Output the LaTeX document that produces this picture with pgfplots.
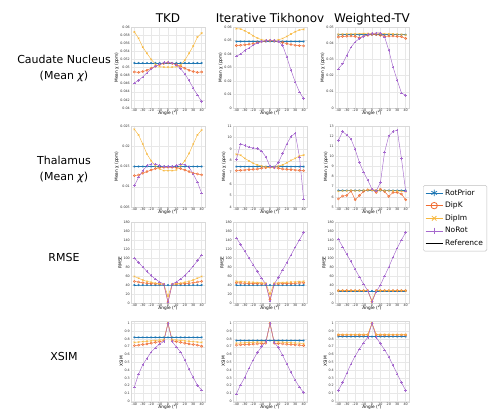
\documentclass[border=0pt]{standalone}
\usepackage{fontspec}
\setmainfont{DejaVu Sans}
\usepackage{pgfplots}
\usepackage{pgfplotstable}
\pgfplotsset{compat=1.18}
\definecolor{cRot}{RGB}{31,119,180}
\definecolor{cDipK}{RGB}{240,108,50}
\definecolor{cDipIm}{RGB}{248,184,62}
\definecolor{cNoRot}{RGB}{165,105,205}

% caudate nucleus, mean chi
\pgfplotstableread{
a rp dk di nr
-40 0.0511 0.0489 0.0588 0.0462
-35 0.0511 0.0488 0.0572 0.0468
-30 0.0511 0.0490 0.0550 0.0477
-25 0.0511 0.0493 0.0535 0.0487
-20 0.0511 0.0498 0.0520 0.0496
-15 0.0511 0.0503 0.0508 0.0503
-10 0.0511 0.0507 0.0502 0.0508
-5 0.0511 0.0510 0.0501 0.0512
0 0.0511 0.0512 0.0501 0.0513
5 0.0511 0.0510 0.0501 0.0511
10 0.0511 0.0507 0.0502 0.0506
15 0.0511 0.0503 0.0506 0.0497
20 0.0511 0.0498 0.0518 0.0484
25 0.0511 0.0493 0.0535 0.0468
30 0.0511 0.0490 0.0553 0.0449
35 0.0511 0.0488 0.0575 0.0432
40 0.0511 0.0489 0.0585 0.0416
}\tAA
\pgfplotstableread{
a rp dk di nr
-40 0.0493 0.0463 0.0588 0.0383
-35 0.0493 0.0465 0.0585 0.0400
-30 0.0493 0.0468 0.0572 0.0425
-25 0.0493 0.0472 0.0555 0.0445
-20 0.0493 0.0477 0.0535 0.0465
-15 0.0493 0.0484 0.0518 0.0482
-10 0.0493 0.0491 0.0506 0.0493
-5 0.0493 0.0496 0.0501 0.0500
0 0.0493 0.0499 0.0500 0.0503
5 0.0493 0.0497 0.0501 0.0500
10 0.0493 0.0492 0.0505 0.0493
15 0.0493 0.0485 0.0515 0.0464
20 0.0493 0.0477 0.0530 0.0378
25 0.0493 0.0470 0.0548 0.0279
30 0.0493 0.0465 0.0565 0.0193
35 0.0493 0.0462 0.0578 0.0119
40 0.0493 0.0460 0.0582 0.0069
}\tAB
\pgfplotstableread{
a rp dk di nr
-40 0.04525 0.04383 0.04542 0.02417
-35 0.04525 0.04417 0.04567 0.02733
-30 0.04525 0.04433 0.04567 0.03250
-25 0.04525 0.04442 0.04575 0.03750
-20 0.04525 0.04417 0.04575 0.04083
-15 0.04525 0.04342 0.04583 0.04283
-10 0.04525 0.04433 0.04592 0.04417
-5 0.04525 0.04483 0.04600 0.04525
0 0.04525 0.04542 0.04608 0.04592
5 0.04525 0.04542 0.04600 0.04633
10 0.04525 0.04483 0.04592 0.04633
15 0.04525 0.04417 0.04583 0.04383
20 0.04525 0.04442 0.04575 0.03558
25 0.04525 0.04442 0.04567 0.02533
30 0.04525 0.04417 0.04558 0.01708
35 0.04525 0.04400 0.04542 0.00925
40 0.04525 0.04292 0.04500 0.00783
}\tAC
% thalamus, mean chi
\pgfplotstableread{
a rp dk di nr
-40 0.0150 0.01276 0.02418 0.01030
-35 0.0150 0.01292 0.02280 0.01234
-30 0.0150 0.01332 0.02052 0.01398
-25 0.0150 0.01374 0.01806 0.01520
-20 0.0150 0.01414 0.01642 0.01562
-15 0.0150 0.01446 0.01520 0.01562
-10 0.0150 0.01472 0.01438 0.01520
-5 0.0150 0.01480 0.01398 0.01496
0 0.0150 0.01480 0.01398 0.01496
5 0.0150 0.01480 0.01398 0.01496
10 0.0150 0.01472 0.01414 0.01520
15 0.0150 0.01446 0.01520 0.01562
20 0.0150 0.01414 0.01642 0.01544
25 0.0150 0.01374 0.01822 0.01480
30 0.0150 0.01332 0.02052 0.01316
35 0.0150 0.01316 0.02280 0.01112
40 0.0150 0.01292 0.02402 0.00842
}\tBA
\pgfplotstableread{
a rp dk di nr
-40 0.00749 0.00714 0.00855 0.00810
-35 0.00749 0.00717 0.00848 0.00946
-30 0.00749 0.00720 0.00820 0.00932
-25 0.00749 0.00723 0.00799 0.00918
-20 0.00749 0.00726 0.00778 0.00911
-15 0.00749 0.00728 0.00764 0.00904
-10 0.00749 0.00735 0.00754 0.00883
-5 0.00749 0.00740 0.00747 0.00834
0 0.00749 0.00743 0.00743 0.00750
5 0.00749 0.00740 0.00747 0.00743
10 0.00749 0.00735 0.00754 0.00785
15 0.00749 0.00728 0.00764 0.00862
20 0.00749 0.00726 0.00782 0.00946
25 0.00749 0.00723 0.00803 0.01009
30 0.00749 0.00720 0.00820 0.01037
35 0.00749 0.00717 0.00841 0.00834
40 0.00749 0.00714 0.00848 0.00470
}\tBB
\pgfplotstableread{
a rp dk di nr
-40 0.00663 0.00580 0.00656 0.01156
-35 0.00663 0.00608 0.00660 0.01244
-30 0.00663 0.00614 0.00660 0.01212
-25 0.00663 0.00657 0.00664 0.01172
-20 0.00663 0.00572 0.00660 0.01068
-15 0.00663 0.00614 0.00662 0.00940
-10 0.00663 0.00654 0.00664 0.00844
-5 0.00663 0.00670 0.00666 0.00764
0 0.00663 0.00670 0.00668 0.00676
5 0.00663 0.00644 0.00666 0.00660
10 0.00663 0.00676 0.00664 0.00740
15 0.00663 0.00652 0.00662 0.01044
20 0.00663 0.00604 0.00660 0.01204
25 0.00663 0.00644 0.00660 0.01244
30 0.00663 0.00644 0.00658 0.01260
35 0.00663 0.00628 0.00656 0.00980
40 0.00663 0.00572 0.00652 0.00660
}\tBC
% RMSE
\pgfplotstableread{
a rp dk di nr
-40 40 48 59 100
-35 40 46.5 55 90
-30 40 45 51 80
-25 40 44 48 70
-20 40 43 46 61
-15 40 42.5 44 53
-10 40 42 43 47
-5 40 41.5 42 42
0 40 2 15 2
5 40 41.5 42 42
10 40 42 43 47
15 40 42.5 44 53
20 40 43 46 61
25 40 44 48 71
30 40 45 51 82
35 40 46.5 55 94
40 40 48 59 107
}\tCA
\pgfplotstableread{
a rp dk di nr
-40 40 45 48 145
-35 40 44.5 47.5 130
-30 40 44 47 115
-25 40 43.5 46.5 100
-20 40 43 46 85
-15 40 43 45.5 70
-10 40 42.5 45 55
-5 40 42 44 42
0 40 8 20 4
5 40 42 44 42
10 40 42.5 45 57
15 40 43 45.5 73
20 40 43 46 90
25 40 43.5 46.5 107
30 40 44 47 124
35 40 44.5 47.5 140
40 40 45 48 157
}\tCB
\pgfplotstableread{
a rp dk di nr
-40 27 27.5 27.5 142
-35 27 27.5 27.5 125
-30 27 27.5 27.5 108
-25 27 27.5 27.5 92
-20 27 27.5 27.5 75
-15 27 27.5 27.5 58
-10 27 27.5 27.5 42
-5 27 27.5 27.5 27
0 27 3 5 3
5 27 27.5 27.5 25
10 27 27.5 27.5 40
15 27 27.5 27.5 60
20 27 27.5 27.5 80
25 27 27.5 27.5 102
30 27 27.5 27.5 122
35 27 27.5 27.5 140
40 27 27.5 27.5 157
}\tCC
% XSIM
\pgfplotstableread{
a rp dk di nr
-40 0.82 0.714 0.755 0.184
-35 0.82 0.720 0.760 0.347
-30 0.82 0.728 0.765 0.470
-25 0.82 0.736 0.770 0.550
-20 0.82 0.745 0.775 0.633
-15 0.82 0.755 0.780 0.686
-10 0.82 0.765 0.785 0.735
-5 0.82 0.776 0.790 0.767
0 0.82 1.000 1.000 1.000
5 0.82 0.776 0.790 0.767
10 0.82 0.765 0.785 0.694
15 0.82 0.755 0.780 0.633
20 0.82 0.745 0.775 0.530
25 0.82 0.736 0.770 0.410
30 0.82 0.728 0.765 0.306
35 0.82 0.720 0.760 0.204
40 0.82 0.706 0.755 0.143
}\tDA
\pgfplotstableread{
a rp dk di nr
-40 0.78 0.720 0.745 0.094
-35 0.78 0.724 0.748 0.210
-30 0.78 0.728 0.751 0.306
-25 0.78 0.730 0.754 0.425
-20 0.78 0.733 0.756 0.530
-15 0.78 0.736 0.758 0.625
-10 0.78 0.740 0.760 0.700
-5 0.78 0.745 0.762 0.765
0 0.78 1.000 1.000 1.000
5 0.78 0.745 0.762 0.755
10 0.78 0.740 0.760 0.690
15 0.78 0.736 0.757 0.590
20 0.78 0.732 0.754 0.480
25 0.78 0.728 0.751 0.370
30 0.78 0.724 0.748 0.270
35 0.78 0.720 0.745 0.180
40 0.78 0.715 0.740 0.110
}\tDB
\pgfplotstableread{
a rp dk di nr
-40 0.83 0.850 0.855 0.14
-35 0.83 0.850 0.855 0.24
-30 0.83 0.850 0.855 0.36
-25 0.83 0.850 0.855 0.48
-20 0.83 0.850 0.855 0.58
-15 0.83 0.850 0.855 0.67
-10 0.83 0.850 0.855 0.75
-5 0.83 0.852 0.856 0.82
0 0.83 1.000 1.000 1.00
5 0.83 0.852 0.856 0.82
10 0.83 0.850 0.855 0.74
15 0.83 0.850 0.855 0.66
20 0.83 0.850 0.855 0.57
25 0.83 0.850 0.855 0.46
30 0.83 0.850 0.855 0.35
35 0.83 0.850 0.855 0.24
40 0.83 0.850 0.855 0.14
}\tDC

\pgfplotsset{
  panel/.style={
    scale only axis, width=74pt, height=81pt,
    xmin=-44, xmax=44, xtick={-40,-30,...,40},
    grid=major, major grid style={draw=black!9, line width=0.3pt},
    axis line style={draw=black!15, line width=0.4pt},
    tick style={draw=none},
    tick label style={font=\fontsize{3.3}{4}\selectfont, inner sep=1pt, text=black!80},
    /pgf/number format/assume math mode=true,
    yticklabel style={/pgf/number format/fixed},
    scaled ticks=false,
    xlabel={Angle (°)},
    label style={font=\fontsize{4.3}{5}\selectfont, inner sep=0.5pt},
    xlabel style={yshift=2pt},
  },
  rp/.style={cRot, line width=0.45pt, mark=asterisk, mark size=1.1pt},
  dk/.style={cDipK, line width=0.45pt, mark=o, mark size=1.1pt},
  di/.style={cDipIm, line width=0.45pt, mark=x, mark size=1.1pt},
  nr/.style={cNoRot, line width=0.45pt, mark=+, mark size=1.2pt},
}
\newcommand\fourplots[1]{%
  \addplot[rp] table[x=a, y=rp] {#1};
  \addplot[dk] table[x=a, y=dk] {#1};
  \addplot[di] table[x=a, y=di] {#1};
  \addplot[nr] table[x=a, y=nr] {#1};
}

\begin{document}
\begin{tikzpicture}
\path[use as bounding box] (0,0) rectangle (491pt,412pt);

% column titles
\begin{scope}[every node/.style={anchor=base, font=\fontsize{12}{14}\selectfont}]
\node at (168pt,389pt) {TKD};
\node at (270pt,389pt) {Iterative Tikhonov};
\node at (372pt,389pt) {Weighted-TV};
\end{scope}
% row labels
\begin{scope}[every node/.style={align=center, font=\fontsize{11}{16}\selectfont}]
\node at (64pt,344pt) {Caudate Nucleus\\(Mean {\itshape χ})};
\node at (64pt,243pt) {Thalamus\\(Mean {\itshape χ})};
\node at (64pt,154pt) {RMSE};
\node at (64pt,55pt) {XSIM};
\end{scope}

% row 1
\begin{axis}[panel, at={(131pt,304pt)}, anchor=south west,
  ymin=0.04, ymax=0.06, ytick={0.04,0.042,...,0.0601},
  yticklabel style={/pgf/number format/precision=3}, ylabel={Mean χ (ppm)}]
\fourplots{\tAA}
\end{axis}
\begin{axis}[panel, at={(233pt,304pt)}, anchor=south west,
  ymin=0, ymax=0.06, ytick={0,0.01,...,0.0601},
  yticklabel style={/pgf/number format/precision=2}, ylabel={Mean χ (ppm)}]
\fourplots{\tAB}
\end{axis}
\begin{axis}[panel, at={(335pt,304pt)}, anchor=south west,
  ymin=0, ymax=0.05, ytick={0,0.01,...,0.0501},
  yticklabel style={/pgf/number format/precision=2}, ylabel={Mean χ (ppm)}]
\fourplots{\tAC}
\end{axis}

% row 2
\begin{axis}[panel, at={(131pt,205pt)}, anchor=south west,
  ymin=0.005, ymax=0.025, ytick={0.005,0.01,0.015,0.02,0.025},
  yticklabel style={/pgf/number format/precision=3}, ylabel={Mean χ (ppm)}]
\fourplots{\tBA}
\end{axis}
\begin{axis}[panel, at={(233pt,205pt)}, anchor=south west,
  ymin=0.004, ymax=0.011, ytick={0.004,0.005,0.006,0.007,0.008,0.009,0.010,0.011},
  yticklabels={4,5,6,7,8,9,10,11}, ylabel={Mean χ (ppm)}]
\fourplots{\tBB}
\node[anchor=south west, inner sep=0.5pt, font=\fontsize{3.3}{4}\selectfont] at (rel axis cs:0,1) {×10\textsuperscript{−3}};
\end{axis}
\begin{axis}[panel, at={(335pt,205pt)}, anchor=south west,
  ymin=0.005, ymax=0.013, ytick={0.005,0.006,0.007,0.008,0.009,0.010,0.011,0.012,0.013},
  yticklabels={5,6,7,8,9,10,11,12,13}, ylabel={Mean χ (ppm)},
  legend style={at={(1.19,0.27)}, anchor=north west, draw=black!25, rounded corners=1.5pt,
    font=\fontsize{7.5}{9}\selectfont, inner sep=2pt, row sep=1.5pt},
  legend cell align=left,
  legend image post style={mark size=3.2pt, line width=0.8pt}]
\fourplots{\tBC}
\addlegendimage{black, line width=1pt}
\legend{RotPrior,DipK,DipIm,NoRot,Reference}
\node[anchor=south west, inner sep=0.5pt, font=\fontsize{3.3}{4}\selectfont] at (rel axis cs:0,1) {×10\textsuperscript{−3}};
\end{axis}

% row 3
\begin{axis}[panel, at={(131pt,109pt)}, anchor=south west,
  ymin=0, ymax=180, ytick={0,20,...,180}, ylabel={RMSE}]
\fourplots{\tCA}
\end{axis}
\begin{axis}[panel, at={(233pt,109pt)}, anchor=south west,
  ymin=0, ymax=180, ytick={0,20,...,180}, ylabel={RMSE}]
\fourplots{\tCB}
\end{axis}
\begin{axis}[panel, at={(335pt,109pt)}, anchor=south west,
  ymin=0, ymax=180, ytick={0,20,...,180}, ylabel={RMSE}]
\fourplots{\tCC}
\end{axis}

% row 4
\begin{axis}[panel, at={(131pt,10pt)}, anchor=south west,
  ymin=-0.01, ymax=1.03, ytick={0,0.1,...,1.01},
  yticklabel style={/pgf/number format/precision=1}, ylabel={XSIM}]
\fourplots{\tDA}
\end{axis}
\begin{axis}[panel, at={(233pt,10pt)}, anchor=south west,
  ymin=-0.01, ymax=1.03, ytick={0,0.1,...,1.01},
  yticklabel style={/pgf/number format/precision=1}, ylabel={XSIM}]
\fourplots{\tDB}
\end{axis}
\begin{axis}[panel, at={(335pt,10pt)}, anchor=south west,
  ymin=-0.01, ymax=1.03, ytick={0,0.1,...,1.01},
  yticklabel style={/pgf/number format/precision=1}, ylabel={XSIM}]
\fourplots{\tDC}
\end{axis}
\end{tikzpicture}
\end{document}
